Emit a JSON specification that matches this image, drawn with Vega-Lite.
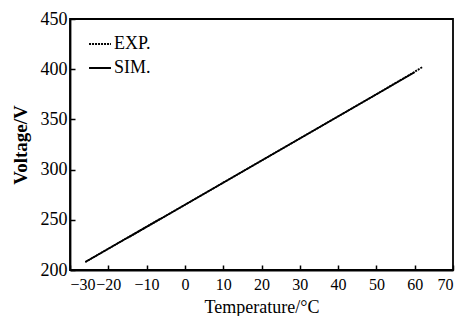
{
  "$schema": "https://vega.github.io/schema/vega-lite/v6.json",
  "width": 383,
  "height": 251,
  "autosize": "none",
  "padding": {"left": 70, "top": 19, "right": 14, "bottom": 46},
  "background": "white",
  "config": {
    "font": "Liberation Serif",
    "view": {"stroke": "black", "strokeWidth": 1.8},
    "axis": {
      "domainColor": "black",
      "domainWidth": 1.8,
      "tickColor": "black",
      "tickWidth": 1.5,
      "tickSize": -5,
      "labelColor": "black",
      "titleColor": "black",
      "labelFont": "Liberation Serif",
      "titleFont": "Liberation Serif",
      "labelFontSize": 18,
      "titleFontSize": 18,
      "titleFontWeight": "normal",
      "labelOverlap": false,
      "labelBound": false,
      "grid": false
    }
  },
  "data": {
    "values": [
      {"series": "EXP.", "temp": -26, "voltage": 208},
      {"series": "EXP.", "temp": -10, "voltage": 243},
      {"series": "EXP.", "temp": 10, "voltage": 287},
      {"series": "EXP.", "temp": 30, "voltage": 331},
      {"series": "EXP.", "temp": 50, "voltage": 375},
      {"series": "EXP.", "temp": 62, "voltage": 402},
      {"series": "SIM.", "temp": -26, "voltage": 208},
      {"series": "SIM.", "temp": -10, "voltage": 243},
      {"series": "SIM.", "temp": 10, "voltage": 287},
      {"series": "SIM.", "temp": 30, "voltage": 331},
      {"series": "SIM.", "temp": 50, "voltage": 375},
      {"series": "SIM.", "temp": 60, "voltage": 397}
    ]
  },
  "mark": {"type": "line", "color": "black", "strokeWidth": 1.8},
  "encoding": {
    "x": {
      "field": "temp",
      "type": "quantitative",
      "scale": {"domain": [-30, 70], "nice": false},
      "axis": {"values": [-30, -20, -10, 0, 10, 20, 30, 40, 50, 60, 70], "title": "Temperature/°C", "labelFontSize": 16, "labelPadding": 11, "titlePadding": 6}
    },
    "y": {
      "field": "voltage",
      "type": "quantitative",
      "scale": {"domain": [200, 450], "nice": false, "zero": false},
      "axis": {"values": [200, 250, 300, 350, 400, 450], "title": "Voltage/V", "titleFontSize": 19, "titleFontWeight": "bold", "labelPadding": 8, "titlePadding": 10}
    },
    "strokeDash": {
      "field": "series",
      "type": "nominal",
      "scale": {"domain": ["EXP.", "SIM."], "range": [[2, 1], [1, 0]]},
      "legend": {
        "title": null,
        "orient": "none",
        "legendX": 18,
        "legendY": 13,
        "symbolType": "stroke",
        "symbolStrokeColor": "black",
        "symbolStrokeWidth": 1.8,
        "symbolSize": 480,
        "labelFont": "Liberation Serif",
        "labelFontSize": 18,
        "labelColor": "black",
        "labelOffset": 2,
        "rowPadding": 3
      }
    }
  }
}
